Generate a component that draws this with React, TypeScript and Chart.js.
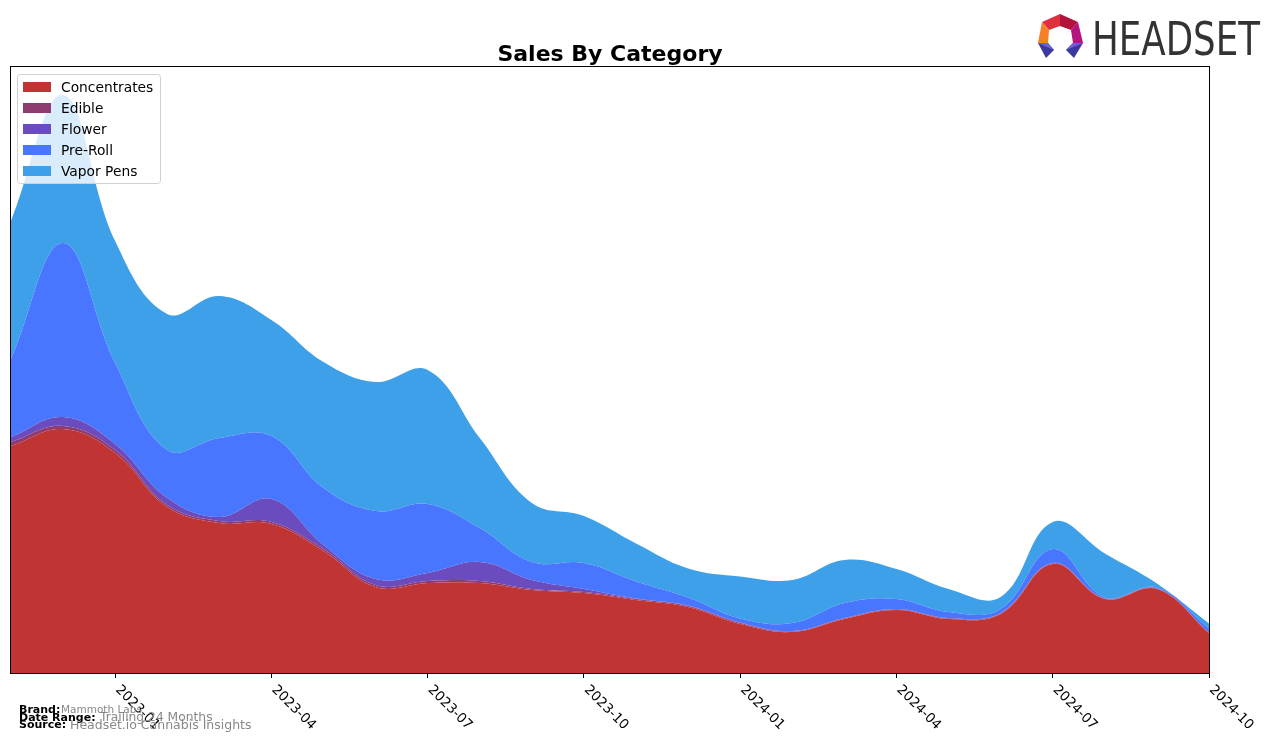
import React, { useEffect, useRef } from 'react';
import { Chart, registerables } from 'chart.js';

Chart.register(...registerables);

const months = [
  '2022-11', '2022-12', '2023-01', '2023-02', '2023-03', '2023-04', '2023-05', '2023-06',
  '2023-07', '2023-08', '2023-09', '2023-10', '2023-11', '2023-12', '2024-01', '2024-02',
  '2024-03', '2024-04', '2024-05', '2024-06', '2024-07', '2024-08', '2024-09', '2024-10',
];
const tickLabels = ['2023-01', '2023-04', '2023-07', '2023-10', '2024-01', '2024-04', '2024-07', '2024-10'];

const concentrates = [227, 244, 220, 166, 150, 149, 122, 86, 90, 90, 83, 80, 73, 66, 49, 41, 54, 63, 54, 59, 109, 74, 84, 40];
const edible = [4, 3, 3, 2, 2, 2, 2, 2, 2, 2, 1, 1, 1, 1, 1, 0.5, 0.5, 0.5, 0.5, 0.5, 0.5, 0.3, 0.3, 0.3];
const flower = [5, 9, 6, 7, 4, 23, 4, 6, 8, 19, 9, 3, 0.5, 0.5, 0.5, 0.5, 0.5, 0.5, 0.5, 0.5, 0.5, 0.3, 0.3, 0.3];
const preRoll = [78, 174, 81, 48, 79, 63, 57, 68, 69, 34, 18, 26, 17, 8, 4, 8, 15, 10, 6, 4, 14, 1, 1, 4];
const vaporPens = [138, 148, 122, 136, 142, 116, 126, 129, 134, 90, 59, 47, 38, 29, 42, 43, 43, 30, 23, 12, 27, 44, 4, 5];

const seriesNames = ['Concentrates', 'Edible', 'Flower', 'Pre-Roll', 'Vapor Pens'];
const seriesColors = ['#C13434', '#8E3B72', '#6A4CBF', '#4876FF', '#3EA0E8'];

const yMax = 606;

const framePlugin = {
  id: 'frameAndTicks',
  afterDraw(chart: any) {
    const { ctx, chartArea: a } = chart;
    ctx.save();
    ctx.strokeStyle = '#000';
    ctx.lineWidth = 1;
    const l = Math.round(a.left) - 0.5;
    const t = Math.round(a.top) - 0.5;
    const r = Math.round(a.right) + 0.5;
    const b = Math.round(a.bottom) + 0.5;
    ctx.strokeRect(l, t, r - l, b - t);
    const xs = chart.scales.x;
    ctx.font = '13.5px "DejaVu Sans"';
    ctx.fillStyle = '#000';
    ctx.textAlign = 'left';
    ctx.textBaseline = 'top';
    xs.ticks.forEach((tk: any, i: number) => {
      const px = xs.getPixelForTick(i);
      ctx.save();
      ctx.translate(px + 7, a.bottom + 10);
      ctx.rotate(Math.PI / 4);
      ctx.fillText(months[tk.value], 0, 0);
      ctx.restore();
    });
    ctx.restore();
  },
};

export default function App() {
  const ref = useRef<HTMLCanvasElement>(null);

  useEffect(() => {
    const values = [concentrates, edible, flower, preRoll, vaporPens];
    const chart = new Chart(ref.current as HTMLCanvasElement, {
      type: 'line',
      data: {
        labels: months,
        datasets: values.map((v, i) => ({
          label: seriesNames[i],
          data: v,
          backgroundColor: seriesColors[i],
          borderColor: seriesColors[i],
          borderWidth: 0,
          fill: i === 0 ? 'origin' : '-1',
          tension: 0.4,
          pointRadius: 0,
          pointHoverRadius: 0,
        })),
      },
      options: {
        responsive: false,
        animation: false,
        devicePixelRatio: 1,
        events: [],
        layout: { padding: { left: 11, right: 67, top: 67, bottom: 0 } },
        plugins: {
          legend: { display: false },
          tooltip: { enabled: false },
          title: { display: false },
        },
        scales: {
          x: {
            type: 'category',
            offset: false,
            grid: {
              display: true,
              drawOnChartArea: false,
              drawTicks: true,
              tickLength: 5,
              color: '#000',
              lineWidth: 1,
            },
            border: { display: false },
            ticks: { display: false, autoSkip: false },
            afterBuildTicks: (s: any) => {
              s.ticks = s.ticks.filter((tk: any) => tickLabels.includes(months[tk.value]));
            },
            afterFit: (s: any) => {
              s.height = 70;
            },
          },
          y: { display: false, stacked: true, min: 0, max: yMax },
        },
      } as any,
      plugins: [framePlugin],
    });
    return () => chart.destroy();
  }, []);

  const legendRows = seriesNames.map((n, i) => ({ name: n, color: seriesColors[i], cy: 87 + i * 21 }));

  return (
    <div style={{ position: 'fixed', left: 0, top: 0, width: 1276, height: 743, background: '#fff' }}>
      <canvas ref={ref} width={1276} height={743} style={{ position: 'absolute', left: 0, top: 0, width: 1276, height: 743 }} />
      <svg width={1276} height={743} style={{ position: 'absolute', left: 0, top: 0 }} fontFamily="'DejaVu Sans', sans-serif">
        <text x={610} y={61} textAnchor="middle" fontWeight="bold" fontSize={22} fill="#000">Sales By Category</text>

        <rect x={17.5} y={74.5} width={143} height={109} rx={3} ry={3} fill="rgba(255,255,255,0.8)" stroke="#d0d0d0" strokeWidth={1} />
        {legendRows.map((r) => (
          <g key={r.name}>
            <rect x={23} y={r.cy - 5} width={28} height={10} fill={r.color} />
            <text x={61} y={r.cy + 4.8} fontSize={13.8} fill="#000">{r.name}</text>
          </g>
        ))}

        <text x={19} y={713} fontSize={11} fontWeight="bold" fill="#000">Brand:</text>
        <text x={61} y={713} fontSize={10.5} fill="#888">Mammoth Labs</text>
        <text x={19} y={720.5} fontSize={11} fontWeight="bold" fill="#000">Date Range:</text>
        <text x={100} y={721} fontSize={12.3} fill="#888">Trailing 24 Months</text>
        <text x={19} y={728} fontSize={11} fontWeight="bold" fill="#000">Source:</text>
        <text x={70} y={729} fontSize={12.5} fill="#888">Headset.io Cannabis Insights</text>

        <g>
          <polygon points="1042,22 1060,14 1060,26 1049,30" fill="#E0303F" />
          <polygon points="1060,14 1078,22 1071,30 1060,26" fill="#B3123A" />
          <polygon points="1042,22 1049,30 1048,43 1038,43" fill="#F58025" />
          <polygon points="1078,22 1083,43 1073,43 1071,30" fill="#B5147F" />
          <polygon points="1038,43 1048,43 1054,50 1046,58" fill="#3A3A9E" />
          <polygon points="1038,43 1048,43 1054,50" fill="#6A62D8" />
          <polygon points="1073,43 1083,43 1074,58 1066,50" fill="#3A3A9E" />
          <polygon points="1073,43 1083,43 1066,50" fill="#6A62D8" />
        </g>
        <text x={1092} y={55} fontSize={47} fill="#333" textLength={168} lengthAdjust="spacingAndGlyphs">HEADSET</text>
      </svg>
    </div>
  );
}
